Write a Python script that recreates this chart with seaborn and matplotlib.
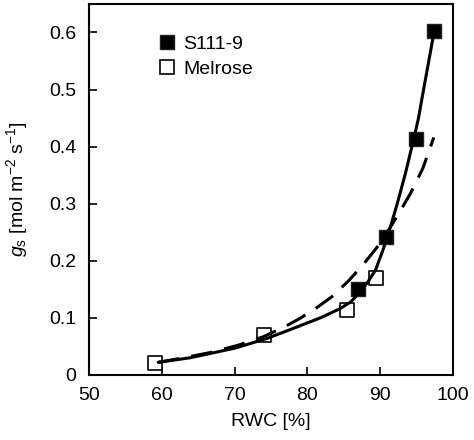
import numpy as np
import pandas as pd
import matplotlib
matplotlib.use("Agg")
import matplotlib.pyplot as plt
import seaborn as sns
from matplotlib.lines import Line2D

# measured points
s111_rwc = [87.0, 90.8, 94.9, 97.4]
s111_gs = [0.150, 0.241, 0.414, 0.602]
mel_rwc = [59.0, 74.1, 85.5, 89.4]
mel_gs = [0.021, 0.070, 0.114, 0.170]

# fitted curves
solid_rwc = [59.5, 63.9, 70.1, 74.5, 78.6, 82.0, 84.5, 86.0, 87.0, 88.3, 89.4, 90.5,
             91.5, 92.4, 93.5, 94.6, 95.3, 96.0, 97.4]
solid_gs = [0.022, 0.030, 0.047, 0.064, 0.084, 0.101, 0.116, 0.128, 0.142, 0.162, 0.184, 0.222,
            0.262, 0.301, 0.353, 0.411, 0.450, 0.500, 0.598]
dash_rwc = [59.5, 63.0, 67.0, 70.5, 74.0, 77.0, 79.0, 81.0, 83.3, 85.7, 87.8, 89.5,
            91.0, 92.6, 94.2, 95.9, 97.4]
dash_gs = [0.022, 0.030, 0.040, 0.052, 0.067, 0.085, 0.099, 0.115, 0.136, 0.165, 0.195, 0.222,
           0.250, 0.283, 0.318, 0.362, 0.416]

sns.set_style("ticks")
plt.rcParams["font.family"] = ["Liberation Sans", "DejaVu Sans"]
plt.rcParams["mathtext.fontset"] = "custom"
plt.rcParams["mathtext.rm"] = "Liberation Sans"
plt.rcParams["mathtext.it"] = "Liberation Sans:italic"
plt.rcParams["text.color"] = "black"
plt.rcParams["axes.labelcolor"] = "black"

pts = pd.DataFrame({
    "rwc": s111_rwc + mel_rwc,
    "gs": s111_gs + mel_gs,
    "line": ["S111-9"] * len(s111_rwc) + ["Melrose"] * len(mel_rwc),
})
curves = pd.DataFrame({
    "rwc": solid_rwc + dash_rwc,
    "gs": solid_gs + dash_gs,
    "fit": ["S111-9"] * len(solid_rwc) + ["Melrose"] * len(dash_rwc),
})

fig = plt.figure(figsize=(4.74, 4.40), dpi=100)
ax = fig.add_axes([0.188, 0.148, 0.767, 0.843])

sns.scatterplot(data=pts[pts["line"] == "S111-9"], x="rwc", y="gs", marker="s", s=95,
                color="black", edgecolor="#222222", linewidth=1, zorder=2, ax=ax, legend=False)
sns.scatterplot(data=pts[pts["line"] == "Melrose"], x="rwc", y="gs", marker="s", s=95,
                color="white", edgecolor="black", linewidth=1.2, zorder=2, ax=ax, legend=False)

sns.lineplot(data=curves[curves["fit"] == "S111-9"], x="rwc", y="gs", sort=False,
             color="black", linewidth=2.2, zorder=3, ax=ax, estimator=None)
sns.lineplot(data=curves[curves["fit"] == "Melrose"], x="rwc", y="gs", sort=False,
             color="black", linewidth=2.2, zorder=3, ax=ax, estimator=None)
ax.lines[-1].set_dashes([7, 4])

ax.set_xlim(50, 100)
ax.set_ylim(0, 0.65)
ax.set_xticks([50, 60, 70, 80, 90, 100])
ax.set_yticks([0, 0.1, 0.2, 0.3, 0.4, 0.5, 0.6])
ax.set_yticklabels(["0", "0.1", "0.2", "0.3", "0.4", "0.5", "0.6"])
ax.tick_params(direction="in", length=6, width=1.2, labelsize=14, pad=9, colors="black")
for sp in ax.spines.values():
    sp.set_linewidth(1.5)
    sp.set_color("black")

ax.set_xlabel("RWC [%]", fontsize=14, labelpad=6)
ax.set_ylabel(r"$g_\mathrm{s}$ [mol m$^{\mathrm{-2}}$ s$^{\mathrm{-1}}$]", fontsize=14, labelpad=14)

handles = [
    Line2D([], [], marker="s", linestyle="none", markersize=9.5, markerfacecolor="black",
           markeredgecolor="#222222"),
    Line2D([], [], marker="s", linestyle="none", markersize=9.5, markerfacecolor="white",
           markeredgecolor="black", markeredgewidth=1.2),
]
ax.legend(handles, ["S111-9", "Melrose"], loc="upper left", bbox_to_anchor=(0.138, 0.962),
          frameon=False, fontsize=14, handletextpad=0.35, labelspacing=0.35,
          handlelength=1.0, borderpad=0.4)

fig.savefig("out.png", dpi=100)
